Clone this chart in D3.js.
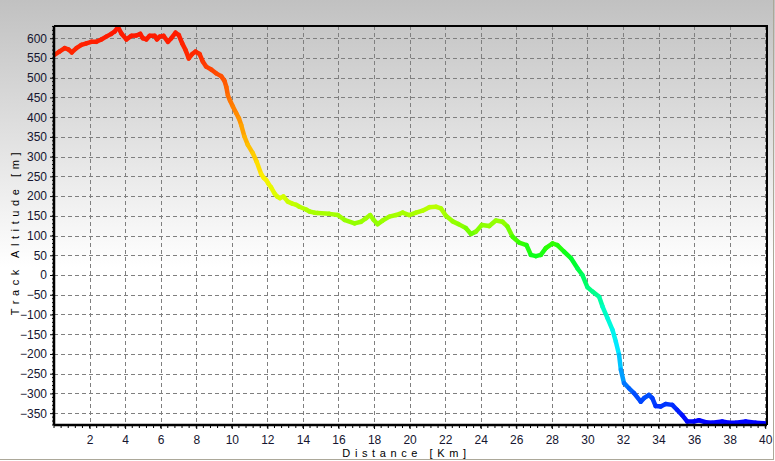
<!DOCTYPE html>
<html><head><meta charset="utf-8">
<script src="https://cdn.jsdelivr.net/npm/d3@7"></script>
<style>html,body{margin:0;padding:0;background:#fff;}svg{display:block;}</style>
</head><body>
<svg id="chart" width="775" height="461"></svg>
<script>
const distanceKm = [0.0,0.3,0.6,0.8,1.0,1.26,1.54,1.82,2.1,2.38,2.66,2.94,3.22,3.41,3.6,3.79,4.07,4.35,4.63,4.85,5.0,5.19,5.38,5.66,5.79,5.94,6.16,6.41,6.6,6.84,7.02,7.21,7.4,7.58,7.77,7.96,8.19,8.37,8.56,8.84,9.12,9.4,9.59,9.69,9.78,9.9,10.06,10.25,10.4,10.53,10.71,10.9,11.18,11.4,11.65,11.8,11.93,12.05,12.21,12.4,12.55,12.7,12.9,13.15,13.4,13.62,13.8,14.18,14.37,14.65,14.83,15.49,15.96,16.33,16.9,17.27,17.55,17.78,17.97,18.2,18.48,18.86,19.24,19.61,19.98,20.36,20.73,21.11,21.48,21.76,22.04,22.42,22.75,23.16,23.45,23.73,24.06,24.48,24.85,25.22,25.5,25.79,26.16,26.57,26.82,27.1,27.38,27.66,28.03,28.31,28.69,29.07,29.44,29.72,30.0,30.29,30.66,30.85,31.13,31.41,31.6,31.78,31.88,32.06,32.34,32.62,33.0,33.18,33.46,33.65,33.84,34.12,34.4,34.77,35.05,35.33,35.61,35.99,36.27,36.65,37.02,37.58,37.96,38.34,38.9,39.46,40.03];
const altitudeM = [557,566,575,572,564,575,583,587,591,591,597,604,611,617,628,612,597,606,607,611,600,597,606,606,597,604,606,591,600,614,608,587,570,549,560,566,560,541,528,521,511,504,492,477,455,442,427,410,397,380,351,330,309,287,256,246,241,232,222,207,199,195,199,186,181,178,173,166,161,158,157,155,152,140,131,135,144,152,140,129,138,148,152,158,152,158,163,172,173,169,150,136,129,119,104,110,127,124,138,135,123,97,82,76,51,48,51,68,80,76,59,43,17,0,-31,-42,-55,-80,-109,-139,-169,-202,-240,-274,-287,-299,-321,-312,-304,-312,-332,-333,-327,-329,-342,-355,-371,-371,-368,-373,-374,-371,-374,-374,-371,-374,-376];
const xTicks = [2,4,6,8,10,12,14,16,18,20,22,24,26,28,30,32,34,36,38,40];
const yTicks = [-350,-300,-250,-200,-150,-100,-50,0,50,100,150,200,250,300,350,400,450,500,550,600];
const colorStopsAlt = [630,560,500,430,370,300,250,200,160,120,80,40,-30,-100,-180,-250,-290,-330,-375];
const colorStops = ["#ff1500","#ff2800","#ff5000","#ff7a00","#ffa000","#ffcc00","#ffee00","#ddff00","#aaff00","#88ff00","#33ff00","#00ff22","#00ff77","#00ffcc","#00eeff","#00aaff","#0066ff","#0033ff","#0000ff"];

const svg = d3.select("#chart");
const W = 775, H = 461;
const L = 54, R = 767, T = 26, B = 425;

const defs = svg.append("defs");
const grad = defs.append("linearGradient").attr("id","bg").attr("x1",0).attr("y1",0).attr("x2",0).attr("y2",1);
grad.append("stop").attr("offset","0%").attr("stop-color","#c1c1c1");
grad.append("stop").attr("offset","58%").attr("stop-color","#ffffff");
grad.append("stop").attr("offset","100%").attr("stop-color","#ffffff");
defs.append("clipPath").attr("id","clip").append("rect").attr("x",L).attr("y",T).attr("width",R-L).attr("height",B-T);

svg.append("rect").attr("width",W).attr("height",H).attr("fill","url(#bg)");
svg.append("line").attr("x1",773.5).attr("x2",773.5).attr("y1",0).attr("y2",460).attr("stroke","#aca899");
svg.append("line").attr("x1",0).attr("x2",774).attr("y1",459.5).attr("y2",459.5).attr("stroke","#aca899");

const x = d3.scaleLinear().domain([0,40.1]).range([L,R]);
const y = d3.scaleLinear().domain([-380,631]).range([B,T]);
const color = d3.scaleLinear().domain(colorStopsAlt).range(colorStops).interpolate(d3.interpolateRgb).clamp(true);

// grid
const grid = svg.append("g").attr("stroke","#7f7f7f").attr("stroke-width",1).attr("stroke-dasharray","4,3");
grid.selectAll(".vg").data(xTicks).join("line")
  .attr("x1",d=>Math.round(x(d))+0.5).attr("x2",d=>Math.round(x(d))+0.5).attr("y1",T).attr("y2",B);
grid.selectAll(".hg").data(yTicks).join("line")
  .attr("y1",d=>Math.round(y(d))+0.5).attr("y2",d=>Math.round(y(d))+0.5).attr("x1",L).attr("x2",R);

// line segments
const pts = distanceKm.map((d,i)=>[d,altitudeM[i]]);
const segs = d3.pairs(pts);
svg.append("g").attr("clip-path","url(#clip)")
  .selectAll("line").data(segs).join("line")
  .attr("x1",d=>x(d[0][0])).attr("y1",d=>y(d[0][1]))
  .attr("x2",d=>x(d[1][0])).attr("y2",d=>y(d[1][1]))
  .attr("stroke",d=>color((d[0][1]+d[1][1])/2))
  .attr("stroke-width",4.5).attr("stroke-linecap","round");

// frame
svg.append("line").attr("x1",L).attr("x2",R+1).attr("y1",T).attr("y2",T).attr("stroke","#000").attr("stroke-width",2);
svg.append("line").attr("x1",R).attr("x2",R).attr("y1",T).attr("y2",B).attr("stroke","#000").attr("stroke-width",2);

// axes
const xAxis = d3.axisBottom(x).tickValues(xTicks).tickSize(4).tickPadding(6);
const gx = svg.append("g").attr("transform",`translate(0,${B})`).call(xAxis);
const xMinor = d3.range(0,40.01,0.4);
svg.append("g").selectAll("line").data(xMinor).join("line")
  .attr("x1",d=>x(d)).attr("x2",d=>x(d)).attr("y1",B).attr("y2",B+3).attr("stroke","#000");
const yAxis = d3.axisLeft(y).tickValues(yTicks).tickSize(4).tickPadding(3);
const gy = svg.append("g").attr("transform",`translate(${L},0)`).call(yAxis);
const yMinor = d3.range(-380,631,10);
svg.append("g").selectAll("line").data(yMinor).join("line")
  .attr("x1",L-2).attr("x2",L).attr("y1",d=>y(d)).attr("y2",d=>y(d)).attr("stroke","#000");
[gx,gy].forEach(g=>{
  g.select(".domain").attr("stroke","#000").attr("stroke-width",2.5);
  g.selectAll(".tick line").attr("stroke","#000");
  g.selectAll("text").attr("font-family","'Liberation Sans', Arial, sans-serif").attr("font-size",12).attr("fill","#151530");
});
gx.select(".domain").attr("d",`M${L},0H${R}`);
gy.select(".domain").attr("d",`M0,${T}V${B}`);

// titles
svg.append("text").attr("x",(L+R)/2-4).attr("y",457).attr("text-anchor","middle")
  .attr("font-family","'Liberation Sans', Arial, sans-serif").attr("font-size",11).attr("letter-spacing","4.6px")
  .attr("fill","#000").text("Distance [Km]");
svg.append("text").attr("transform",`translate(19,${(T+B)/2+6}) rotate(-90)`).attr("text-anchor","middle")
  .attr("font-family","'Liberation Sans', Arial, sans-serif").attr("font-size",11).attr("letter-spacing","4.6px")
  .attr("fill","#000").text("Track Altitude [m]");
</script>
</body></html>
